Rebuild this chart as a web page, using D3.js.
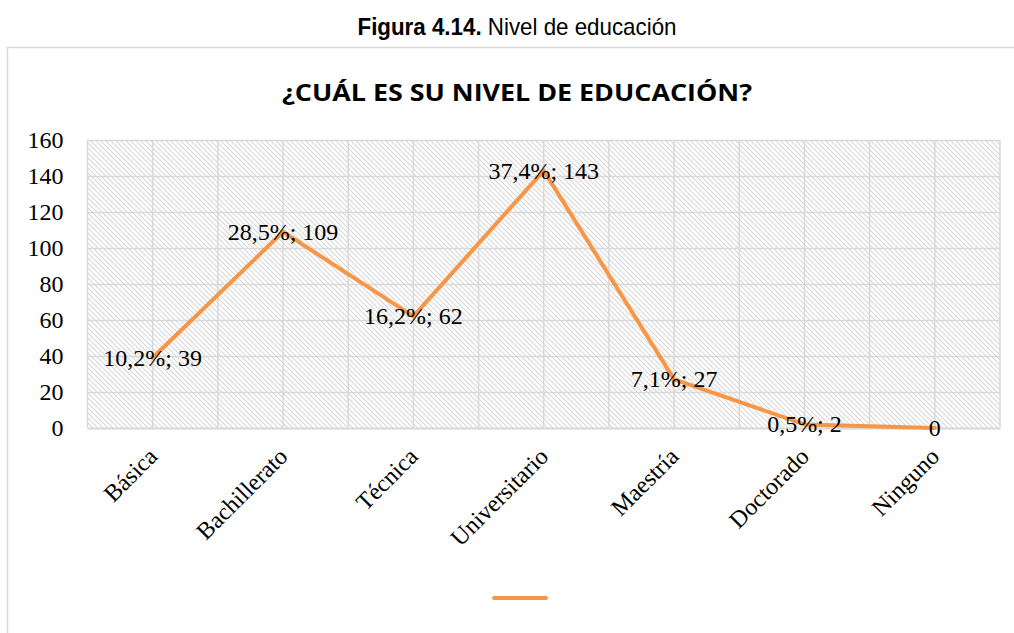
<!DOCTYPE html>
<html>
<head>
<meta charset="utf-8">
<script src="https://cdn.jsdelivr.net/npm/d3@7"></script>
<style>
  body { margin: 0; background: #fff; }
  svg { display: block; }
</style>
</head>
<body>
<div class="chart"></div>
<script>
// datos de la figura 4.14
const categories = ['Básica', 'Bachillerato', 'Técnica', 'Universitario', 'Maestría', 'Doctorado', 'Ninguno'];
const values = [39, 109, 62, 143, 27, 2, 0];
const percents = ['10,2%', '28,5%', '16,2%', '37,4%', '7,1%', '0,5%', ''];
const yTicks = [0, 20, 40, 60, 80, 100, 120, 140, 160];

const width = 1014;
const height = 633;
const orange = '#f79646';
const grid = '#d9d9d9';
const serif = '"Liberation Serif", "DejaVu Serif", serif';

const svg = d3.select('.chart')
  .append('svg')
  .attr('width', width)
  .attr('height', height);

// patrón de rayas diagonales
const defs = svg.append('defs');
const pat = defs.append('pattern')
  .attr('id', 'hatch')
  .attr('patternUnits', 'userSpaceOnUse')
  .attr('width', 5)
  .attr('height', 5);
pat.append('rect').attr('width', 5).attr('height', 5).attr('fill', '#fff');
pat.append('path')
  .attr('d', 'M-1,-1 L6,6 M-1,4 L1,6 M4,-1 L6,1')
  .attr('stroke', '#d9d9d9')
  .attr('stroke-width', 1.2);

// título de la figura
const cap = svg.append('text')
  .attr('x', 517)
  .attr('y', 35)
  .attr('text-anchor', 'middle')
  .attr('font-family', '"Liberation Sans Narrow", "Arial Narrow", "Liberation Sans", sans-serif')
  .attr('font-size', 24)
  .attr('textLength', 319)
  .attr('lengthAdjust', 'spacingAndGlyphs')
  .attr('fill', '#000');
cap.append('tspan').attr('font-weight', 'bold').text('Figura  4.14.');
cap.append('tspan').text(' Nivel de educación');

// marco del gráfico
svg.append('rect')
  .attr('x', 7.5).attr('y', 47.5)
  .attr('width', 1030).attr('height', 620)
  .attr('fill', '#fff')
  .attr('stroke', grid)
  .attr('stroke-width', 1.5);

svg.append('text')
  .attr('x', 517)
  .attr('y', 101)
  .attr('text-anchor', 'middle')
  .attr('font-family', '"Open Sans", "Noto Sans", sans-serif')
  .attr('font-weight', 'bold')
  .attr('font-size', 23)
  .attr('textLength', 470)
  .attr('lengthAdjust', 'spacingAndGlyphs')
  .attr('fill', '#000')
  .text('¿CUÁL ES SU NIVEL DE EDUCACIÓN?');

const x = d3.scaleBand()
  .domain(categories)
  .range([87.5, 1000]);
const cx = d => x(d) + x.bandwidth() / 2;

const y = d3.scaleLinear()
  .domain([0, 160])
  .range([428, 140]);

// área de trazado
svg.append('rect')
  .attr('x', x.range()[0])
  .attr('y', y(160))
  .attr('width', x.range()[1] - x.range()[0])
  .attr('height', y(0) - y(160))
  .attr('fill', 'url(#hatch)');

// cuadrícula vertical (bordes y centros de categorías)
const vLines = [];
categories.forEach(c => { vLines.push(x(c)); vLines.push(cx(c)); });
vLines.push(x.range()[1]);
svg.selectAll('line.vgrid')
  .data(vLines)
  .enter()
  .append('line')
  .attr('class', 'vgrid')
  .attr('x1', d => d).attr('x2', d => d)
  .attr('y1', y(160)).attr('y2', y(0))
  .attr('stroke', grid)
  .attr('stroke-width', 1.5);

// eje Y
const yAxis = svg.append('g')
  .attr('transform', `translate(${x.range()[0]},0)`)
  .call(d3.axisLeft(y).tickValues(yTicks).tickSize(-(x.range()[1] - x.range()[0])).tickPadding(24));
yAxis.select('.domain').remove();
yAxis.selectAll('line').attr('stroke', grid).attr('stroke-width', 1.5);
yAxis.selectAll('text')
  .attr('font-family', serif)
  .attr('font-size', 24)
  .attr('fill', '#000');

// eje X
const xAxis = svg.append('g')
  .attr('transform', `translate(0,${y(0)})`)
  .call(d3.axisBottom(x).tickSize(0).tickPadding(0));
xAxis.select('.domain').attr('stroke', grid).attr('stroke-width', 2);
xAxis.selectAll('text')
  .attr('font-family', serif)
  .attr('font-size', 24)
  .attr('fill', '#000')
  .attr('text-anchor', 'end')
  .attr('dy', 0)
  .attr('transform', 'translate(6,30) rotate(-45)');

// línea
const line = d3.line()
  .x((d, i) => cx(categories[i]))
  .y(d => y(d));

svg.append('path')
  .datum(values)
  .attr('d', line)
  .attr('fill', 'none')
  .attr('stroke', orange)
  .attr('stroke-width', 4)
  .attr('stroke-linejoin', 'round')
  .attr('stroke-linecap', 'round');

// etiquetas de datos
svg.selectAll('text.lbl')
  .data(values)
  .enter()
  .append('text')
  .attr('class', 'lbl')
  .attr('x', (d, i) => cx(categories[i]))
  .attr('y', d => y(d) + 8)
  .attr('text-anchor', 'middle')
  .attr('font-family', serif)
  .attr('font-size', 24)
  .attr('fill', '#000')
  .text((d, i) => percents[i] ? percents[i] + '; ' + d : d);

// leyenda
svg.append('line')
  .attr('x1', 494).attr('x2', 546)
  .attr('y1', 598).attr('y2', 598)
  .attr('stroke', orange)
  .attr('stroke-width', 4)
  .attr('stroke-linecap', 'round');
</script>
</body>
</html>
